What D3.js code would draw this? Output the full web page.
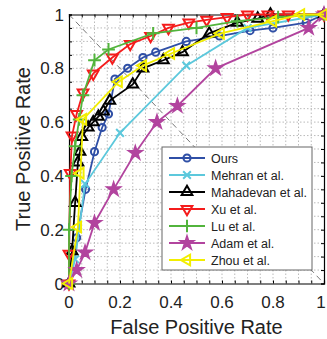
<!DOCTYPE html>
<html>
<head>
<meta charset="utf-8">
<script src="https://cdn.jsdelivr.net/npm/d3@7"></script>
<style>
  body { margin: 0; background: #fff; }
  text { font-family: "Liberation Sans", Arial, sans-serif; fill: #222; }
</style>
</head>
<body>
<script>
'use strict';

// ROC curves, [fpr, tpr]
const ours = [[0,0],[0.03,0.17],[0.065,0.35],[0.1,0.49],[0.13,0.58],[0.155,0.63],[0.18,0.76],[0.23,0.80],[0.29,0.84],[0.34,0.86],[0.46,0.90],[0.59,0.92],[0.71,0.94],[0.80,0.95],[0.93,0.97],[1,1]]
const mehran = [[0,0],[0.024,0.09],[0.063,0.37],[0.2,0.56],[0.46,0.81],[0.7,0.95],[1,1]]
const mahadevan = [[0,0],[0.012,0.12],[0.024,0.30],[0.035,0.45],[0.043,0.49],[0.05,0.545],[0.075,0.58],[0.095,0.60],[0.115,0.62],[0.135,0.64],[0.16,0.68],[0.25,0.74],[0.29,0.80],[0.37,0.83],[0.445,0.86],[0.55,0.93],[0.66,0.97],[0.74,0.985],[0.79,1.0],[1,1]]
const xu = [[0,0],[0,0.11],[0.005,0.41],[0.012,0.55],[0.03,0.63],[0.055,0.71],[0.095,0.78],[0.17,0.84],[0.24,0.89],[0.32,0.92],[0.39,0.95],[0.47,0.97],[0.54,0.98],[0.62,0.99],[0.70,1.0],[0.78,1.0],[0.86,1.0],[1,1]]
const lu = [[0,0],[0,0.2],[0.01,0.4],[0.024,0.51],[0.04,0.61],[0.055,0.70],[0.1,0.83],[0.155,0.87],[0.33,0.93],[0.5,0.95],[0.66,0.975],[0.82,0.99],[1,1]]
const adam = [[0,0],[0.03,0.05],[0.063,0.115],[0.10,0.225],[0.175,0.35],[0.26,0.485],[0.345,0.60],[0.425,0.66],[0.575,0.80],[0.94,0.95],[1,1]]
const zhou = [[0,0],[0.035,0.21],[0.045,0.41],[0.055,0.61],[0.195,0.75],[0.29,0.81],[0.40,0.855],[0.595,0.93],[0.80,0.975],[0.91,1.0],[1,1]]

const seriesNames = ['Ours', 'Mehran et al.', 'Mahadevan et al.', 'Xu et al.', 'Lu et al.', 'Adam et al.', 'Zhou et al.']
const seriesData = [ours, mehran, mahadevan, xu, lu, adam, zhou]
const ticks = [0, 0.2, 0.4, 0.6, 0.8, 1]
const tickLabels = ['0', '0.2', '0.4', '0.6', '0.8', '1']

const colors = ['#2f4fa6', '#5cc8dc', '#000000', '#f41c1c', '#52b43c', '#b2449e', '#f2ee00']
// marker look per series
const markers = [
  { type: d3.symbolCircle, size: 40, rot: 0, fill: false },
  { type: d3.symbolTimes, size: 40, rot: 0, fill: false },
  { type: d3.symbolTriangle, size: 50, rot: 0, fill: false },
  { type: d3.symbolTriangle, size: 50, rot: 180, fill: false },
  { type: d3.symbolPlus, size: 55, rot: 0, fill: false },
  { type: d3.symbolStar, size: 48, rot: 0, fill: true },
  { type: d3.symbolTriangle, size: 50, rot: -90, fill: false }
]

const m = { width: 327, height: 339, left: 69, right: 324, top: 14.5, bottom: 283.5 }

const svg = d3.select('body').append('svg')
  .attr('width', m.width)
  .attr('height', m.height)

const x = d3.scaleLinear().domain([0, 1]).range([m.left, m.right])
const y = d3.scaleLinear().domain([0, 1]).range([m.bottom, m.top])

// dotted grid every 0.05
const grid = d3.range(1, 20).map((i) => i / 20)
svg.append('g').selectAll('line.gx').data(grid).enter().append('line')
  .attr('x1', (d) => x(d)).attr('x2', (d) => x(d))
  .attr('y1', m.top).attr('y2', m.bottom)
  .style('stroke', '#aaa').style('stroke-width', 0.8).style('stroke-dasharray', '1.5,2')
svg.append('g').selectAll('line.gy').data(grid).enter().append('line')
  .attr('y1', (d) => y(d)).attr('y2', (d) => y(d))
  .attr('x1', m.left).attr('x2', m.right)
  .style('stroke', '#aaa').style('stroke-width', 0.8).style('stroke-dasharray', '1.5,2')

// chance diagonal
svg.append('line')
  .attr('x1', x(0)).attr('y1', y(1)).attr('x2', x(1)).attr('y2', y(0))
  .style('stroke', '#555').style('stroke-width', 0.8).style('stroke-dasharray', '6,4')

// axes, ticks inward on all four sides
const allTicks = d3.range(0, 21).map((i) => i / 20)
svg.append('g').attr('transform', 'translate(0,' + m.bottom + ')')
  .call(d3.axisBottom(x).tickValues(allTicks).tickSize(-3).tickFormat(''))
svg.append('g').attr('transform', 'translate(0,' + m.top + ')')
  .call(d3.axisTop(x).tickValues(allTicks).tickSize(-3).tickFormat(''))
svg.append('g').attr('transform', 'translate(' + m.left + ',0)')
  .call(d3.axisLeft(y).tickValues(allTicks).tickSize(-3).tickFormat(''))
svg.append('g').attr('transform', 'translate(' + m.right + ',0)')
  .call(d3.axisRight(y).tickValues(allTicks).tickSize(-3).tickFormat(''))
svg.selectAll('.domain').style('stroke', '#000').style('stroke-width', 1.2)
svg.selectAll('.tick line').style('stroke', '#000')

// tick labels (last x label kept inside the window)
svg.append('g').selectAll('text').data(ticks).enter().append('text')
  .attr('x', (d) => Math.min(x(d), m.width - 6)).attr('y', m.bottom + 24)
  .attr('text-anchor', 'middle').style('font-size', '17px')
  .text((d, i) => tickLabels[i])
svg.append('g').selectAll('text').data(ticks).enter().append('text')
  .attr('x', m.left - 5).attr('y', (d) => y(d) + 6)
  .attr('text-anchor', 'end').style('font-size', '17px')
  .text((d, i) => tickLabels[i])

// axis titles
svg.append('text')
  .attr('x', (m.left + m.right) / 2).attr('y', 334)
  .attr('text-anchor', 'middle').style('font-size', '20px')
  .text('False Positive Rate')
svg.append('text')
  .attr('transform', 'translate(30,' + ((m.top + m.bottom) / 2) + ')rotate(-90)')
  .attr('text-anchor', 'middle').style('font-size', '20px')
  .text('True Positive Rate')

const line = d3.line().x((d) => x(d[0])).y((d) => y(d[1]))

function drawMarker(g, k, px, py) {
  const mk = markers[k]
  g.append('path')
    .attr('d', d3.symbol().type(mk.type).size(mk.size)())
    .attr('transform', 'translate(' + px + ',' + py + ')rotate(' + mk.rot + ')')
    .style('fill', mk.fill ? colors[k] : 'none')
    .style('stroke', colors[k])
    .style('stroke-width', 2)
}

// curves
seriesData.forEach((data, k) => {
  const g = svg.append('g')
  g.append('path').datum(data)
    .attr('d', line)
    .style('fill', 'none')
    .style('stroke', colors[k])
    .style('stroke-width', 1.8)
  data.forEach((d) => drawMarker(g, k, x(d[0]), y(d[1])))
})

// legend
const lg = svg.append('g')
lg.append('rect')
  .attr('x', 162).attr('y', 147).attr('width', 150).attr('height', 123)
  .style('fill', '#fff').style('stroke', '#666').style('stroke-width', 1)
seriesNames.forEach((name, k) => {
  const ly = 158 + k * 17
  lg.append('line')
    .attr('x1', 169).attr('x2', 205).attr('y1', ly).attr('y2', ly)
    .style('stroke', colors[k]).style('stroke-width', 1.8)
  drawMarker(lg, k, 187, ly)
  lg.append('text')
    .attr('x', 211).attr('y', ly + 4.5)
    .style('font-size', '12.5px')
    .text(name)
})
</script>
</body>
</html>
